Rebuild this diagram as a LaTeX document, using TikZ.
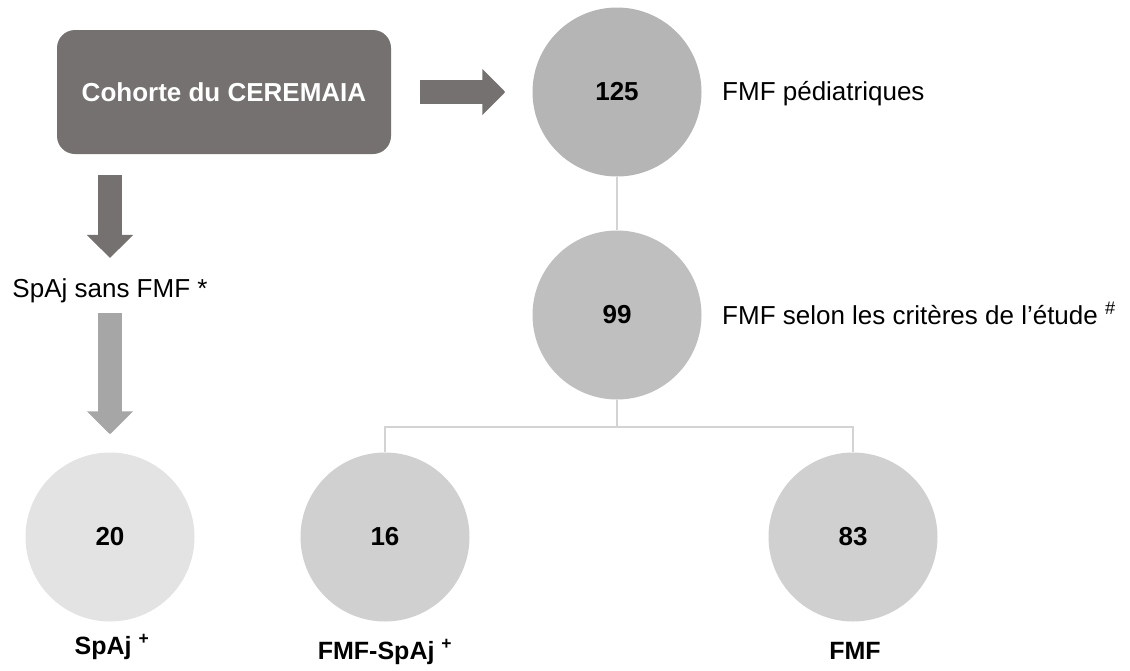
\documentclass[tikz,border=0pt]{standalone}
\usepackage{fontspec}
\setmainfont{Liberation Sans}
\usepackage{tikz}
\usetikzlibrary{arrows.meta}
\usepackage{xcolor}
\definecolor{boxgray}{HTML}{757170}
\definecolor{arrowgray}{HTML}{A6A6A6}
\definecolor{grayA}{HTML}{B5B5B5}
\definecolor{grayB}{HTML}{BFBFBF}
\definecolor{grayC}{HTML}{D0D0D0}
\definecolor{grayD}{HTML}{E3E3E3}
\definecolor{linkgray}{HTML}{D3D3D3}

\begin{document}
\begin{tikzpicture}[x=1pt,y=-1pt,
  circ/.style={circle,minimum size=169pt,inner sep=0pt,font=\fontsize{26}{30}\selectfont\bfseries},
  link/.style={draw=linkgray,line width=2pt},
  bigarrow/.style={line width=24pt,-{Triangle[width=45pt,length=23pt]}},
  txt/.style={font=\fontsize{26}{30}\selectfont,inner sep=0pt},
  lab/.style={font=\fontsize{25}{30}\selectfont\bfseries,inner sep=0pt,anchor=base}]
\useasboundingbox (0,0) rectangle (1130,670);

\node [rounded corners=18pt,fill=boxgray,text=white,minimum width=334pt,minimum height=124pt,
  font=\fontsize{26}{30}\selectfont\bfseries] (cohort) at (224,92) {Cohorte du CEREMAIA};

\node [circ,fill=grayA] (n125) at (617,92) {125};
\node [circ,fill=grayB] (n99) at (617,315) {99};
\node [circ,fill=grayD] (n20) at (110,537) {20};
\node [circ,fill=grayC] (n16) at (385,537) {16};
\node [circ,fill=grayC] (n83) at (853,537) {83};

\node [txt,anchor=base west] (ped) at (722,100) {FMF pédiatriques};
\node [txt,anchor=base west] (crit) at (722,324) {FMF selon les critères de l’étude \textsuperscript{\#}};
\node [txt,anchor=base] (spaj) at (110,297) {SpAj sans FMF *};

\node [lab] (l20) at (112,654) {SpAj \textsuperscript{+}};
\node [lab] (l16) at (385,659) {FMF-SpAj \textsuperscript{+}};
\node [lab] (l83) at (855,659) {FMF};

% arrows
\draw [bigarrow,boxgray,shorten <=29pt,shorten >=27pt] (cohort) -- (n125);
\draw [bigarrow,boxgray,shorten <=21pt,shorten >=20pt] (cohort.south -| spaj) -- (spaj);
\draw [bigarrow,arrowgray,shorten <=10pt,shorten >=18pt] (spaj) -- (n20);

% tree
\coordinate (split) at (617,427);
\draw [link] (n125) -- (n99);
\draw [link] (n99) -- (split);
\draw [link] (n16) |- (split) -| (n83);

\end{tikzpicture}
\end{document}
